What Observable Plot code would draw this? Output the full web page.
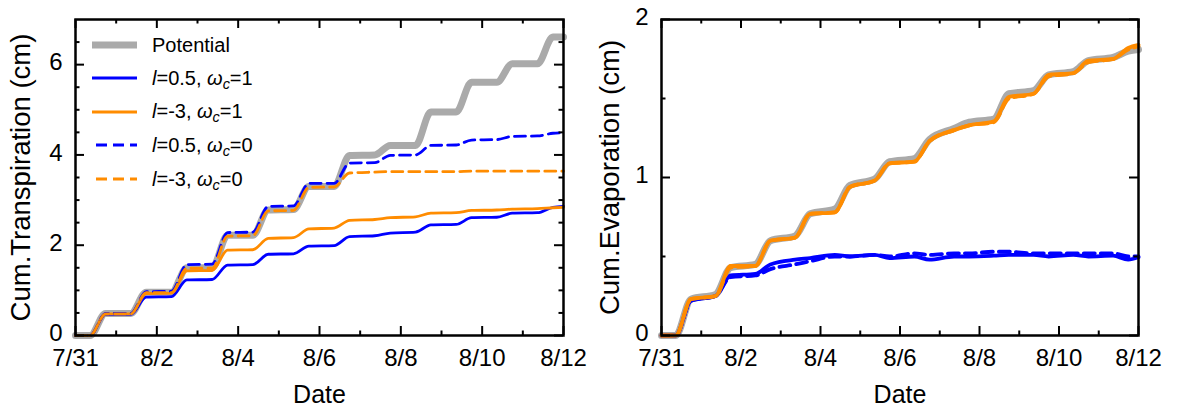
<!DOCTYPE html>
<html><head><meta charset="utf-8">
<script src="https://cdn.jsdelivr.net/npm/d3@7"></script>
<script src="https://cdn.jsdelivr.net/npm/@observablehq/plot@0.6"></script>
<style>
body{margin:0;background:#fff;font-family:"Liberation Sans",Arial,sans-serif;}
#wrap{position:relative;width:1184px;height:409px;overflow:hidden;background:#fff}
.panel{position:absolute;top:0}
.row{position:absolute;left:92px;height:34px;display:flex;align-items:center;font-size:20px;color:#000;white-space:nowrap}
.row svg{margin-right:15px;display:block}
.sub{font-size:0.72em;position:relative;top:0.3em;font-style:italic}
</style>
</head><body>
<div id="wrap"><div id="left" class="panel" style="left:0;width:590px"></div><div id="right" class="panel" style="left:590px;width:594px"></div></div>
<script>
// ---- data (days since 7/31) ----
const t = [0, 0.36, 0.74, 1.36, 1.74, 2.36, 2.74, 3.36, 3.74, 4.36, 4.74, 5.36, 5.74, 6.36, 6.74, 7.36, 7.74, 8.36, 8.74, 9.36, 9.74, 10.36, 10.74, 11.36, 11.74, 12];

// Cumulative transpiration (cm)
const trPotential = [0, 0, 0.49, 0.49, 0.96, 0.96, 1.50, 1.50, 2.22, 2.22, 2.78, 2.79, 3.30, 3.30, 3.99, 4.00, 4.21, 4.21, 4.95, 4.95, 5.61, 5.61, 6.02, 6.02, 6.61, 6.61];
const trL05W1 = [0, 0, 0.47, 0.47, 0.85, 0.86, 1.23, 1.24, 1.56, 1.57, 1.80, 1.81, 1.98, 1.99, 2.19, 2.21, 2.27, 2.29, 2.45, 2.46, 2.61, 2.62, 2.71, 2.72, 2.84, 2.86];
const trL3W1 = [0, 0, 0.48, 0.48, 0.93, 0.94, 1.43, 1.44, 1.89, 1.90, 2.15, 2.17, 2.36, 2.38, 2.55, 2.57, 2.61, 2.63, 2.71, 2.72, 2.77, 2.78, 2.80, 2.81, 2.83, 2.84];
const trL05W0 = [0, 0, 0.49, 0.49, 0.97, 0.98, 1.57, 1.58, 2.28, 2.29, 2.86, 2.87, 3.37, 3.37, 3.82, 3.83, 3.99, 4.00, 4.21, 4.22, 4.33, 4.34, 4.41, 4.42, 4.48, 4.49];
const trL3W0 = [0, 0, 0.48, 0.48, 0.95, 0.95, 1.49, 1.49, 2.20, 2.21, 2.76, 2.77, 3.28, 3.29, 3.60, 3.62, 3.63, 3.63, 3.63, 3.63, 3.64, 3.64, 3.64, 3.64, 3.64, 3.64];

// Cumulative evaporation (cm)
const evPotential = [0, 0, 0.23, 0.26, 0.43, 0.45, 0.60, 0.63, 0.77, 0.80, 0.95, 0.99, 1.10, 1.12, 1.24, 1.31, 1.35, 1.37, 1.53, 1.55, 1.65, 1.67, 1.74, 1.76, 1.80, 1.81];
const evL05W1 = [0, 0, 0.22, 0.25, 0.38, 0.39, 0.45, 0.48, 0.49, 0.51, 0.50, 0.51, 0.49, 0.50, 0.48, 0.50, 0.50, 0.505, 0.51, 0.51, 0.50, 0.51, 0.50, 0.505, 0.48, 0.495];
const evL3W1 = [0, 0, 0.23, 0.25, 0.44, 0.44, 0.60, 0.62, 0.77, 0.78, 0.94, 0.98, 1.09, 1.10, 1.23, 1.30, 1.33, 1.355, 1.51, 1.53, 1.65, 1.66, 1.74, 1.75, 1.82, 1.84];
const evL05W0 = [0, 0, 0.22, 0.25, 0.37, 0.38, 0.42, 0.45, 0.47, 0.50, 0.50, 0.51, 0.50, 0.52, 0.51, 0.52, 0.52, 0.53, 0.53, 0.52, 0.52, 0.52, 0.52, 0.52, 0.50, 0.50];
const evL3W0 = [0, 0, 0.23, 0.25, 0.43, 0.44, 0.60, 0.62, 0.77, 0.78, 0.94, 0.98, 1.09, 1.10, 1.23, 1.30, 1.33, 1.35, 1.50, 1.53, 1.64, 1.66, 1.73, 1.75, 1.81, 1.83];

// ticks
const xMajor = [0, 2, 4, 6, 8, 10, 12];
const xLabels = ["7/31", "8/2", "8/4", "8/6", "8/8", "8/10", "8/12"];
const xMinor = [1, 3, 5, 7, 9, 11];
const trYMajor = [0, 2, 4, 6];
const trYMinor = [0.5, 1, 1.5, 2.5, 3, 3.5, 4.5, 5, 5.5, 6.5];
const evYMajor = [0, 1, 2];
const evYMinor = [0.5, 1.5];

// legend
const seriesNames = ["Potential", "l=0.5, wc=1", "l=-3, wc=1", "l=0.5, wc=0", "l=-3, wc=0"];
const legendL = [null, "0.5", "-3", "0.5", "-3"];
const legendW = [null, "1", "1", "0", "0"];
const colors = ["#aaaaaa", "#0000ff", "#ff8c00", "#0000ff", "#ff8c00"];
const dashes = [null, null, null, "11,6", "11,6"];

function rows(vals, k) { return t.map((d, i) => ({t: d, v: vals[i], s: seriesNames[k]})); }

function panel(o) {
  const FONT = "'Liberation Sans', Arial, sans-serif";
  const [y0, y1] = o.yDomain;
  const major = 9, minor = 4.5, tw = 2;
  const lineMarks = o.order.map(k => Plot.line(rows(o.series[k], k), {
    x: "t", y: "v", stroke: colors[k], strokeWidth: o.widths[k],
    strokeDasharray: dashes[k], curve: "monotone-x", strokeLinejoin: "round"
  }));
  return Plot.plot({
    width: o.width, height: 409,
    marginTop: 19, marginBottom: 74, marginLeft: o.marginLeft, marginRight: o.marginRight,
    style: {fontFamily: FONT, fontSize: "24px", color: "#000", background: "transparent", overflow: "visible"},
    x: {domain: [0, 12]},
    y: {domain: o.yDomain},
    marks: [
      ...lineMarks,
      Plot.frame({stroke: "#000", strokeWidth: 2.5}),
      // inward ticks on four sides
      Plot.ruleX(xMajor, {x: d => d, y1: y0, y2: y0, insetTop: -major, strokeWidth: tw}),
      Plot.ruleX(xMinor, {x: d => d, y1: y0, y2: y0, insetTop: -minor, strokeWidth: tw}),
      Plot.ruleX(xMajor, {x: d => d, y1: y1, y2: y1, insetBottom: -major, strokeWidth: tw}),
      Plot.ruleX(xMinor, {x: d => d, y1: y1, y2: y1, insetBottom: -minor, strokeWidth: tw}),
      Plot.ruleY(o.yMajor, {y: d => d, x1: 0, x2: 0, insetRight: -major, strokeWidth: tw}),
      Plot.ruleY(o.yMinor, {y: d => d, x1: 0, x2: 0, insetRight: -minor, strokeWidth: tw}),
      Plot.ruleY(o.yMajor, {y: d => d, x1: 12, x2: 12, insetLeft: -major, strokeWidth: tw}),
      Plot.ruleY(o.yMinor, {y: d => d, x1: 12, x2: 12, insetLeft: -minor, strokeWidth: tw}),
      Plot.axisX(xMajor, {tickSize: 0, tickPadding: 13, label: null, fontSize: 24,
        tickFormat: d => xLabels[xMajor.indexOf(d)]}),
      Plot.axisY(o.yMajor, {tickSize: 0, tickPadding: 13, label: null, fontSize: 24, dy: -2,
        tickFormat: d => String(d)}),
      Plot.text([o.label], {text: d => d, frameAnchor: "left", dx: o.labelDx, rotate: -90,
        fontSize: 27.5, textAnchor: "middle", lineAnchor: "middle"}),
      Plot.text(["Date"], {text: d => d, frameAnchor: "bottom", dy: 59, fontSize: 25, lineAnchor: "middle"})
    ]
  });
}

const left = panel({
  width: 590, marginLeft: 75, marginRight: 27, yDomain: [0, 7],
  yMajor: trYMajor, yMinor: trYMinor, label: "Cum.Transpiration (cm)", labelDx: -54,
  series: [trPotential, trL05W1, trL3W1, trL05W0, trL3W0],
  widths: [7, 2.8, 2.8, 2.8, 2.8], order: [0, 1, 2, 3, 4]
});
const right = panel({
  width: 594, marginLeft: 71, marginRight: 46, yDomain: [0, 2],
  yMajor: evYMajor, yMinor: evYMinor, label: "Cum.Evaporation (cm)", labelDx: -51,
  series: [evPotential, evL05W1, evL3W1, evL05W0, evL3W0],
  widths: [7, 3.8, 3.8, 3.8, 3.8], order: [0, 3, 1, 4, 2]
});
document.getElementById("left").appendChild(left);
document.getElementById("right").appendChild(right);

// legend (HTML overlay inside left panel)
const legendRowCenters = [45, 78, 111.5, 145, 179];
const leg = document.getElementById("left");
seriesNames.forEach((name, k) => {
  const row = document.createElement("div");
  row.className = "row";
  row.style.top = (legendRowCenters[k] - 17) + "px";
  const sw = k === 0 ? 7 : 3;
  const dash = dashes[k] ? ` stroke-dasharray="${dashes[k]}" stroke-dashoffset="-4"` : "";
  const label = k === 0 ? "Potential"
    : `<i>l</i>=${legendL[k]}, <i>ω</i><span class="sub">c</span>=${legendW[k]}`;
  row.innerHTML = `<svg width="45" height="10"><line x1="0" x2="45" y1="5" y2="5" stroke="${colors[k]}" stroke-width="${sw}"${dash}/></svg><span>${label}</span>`;
  leg.appendChild(row);
});
</script>
</body></html>
